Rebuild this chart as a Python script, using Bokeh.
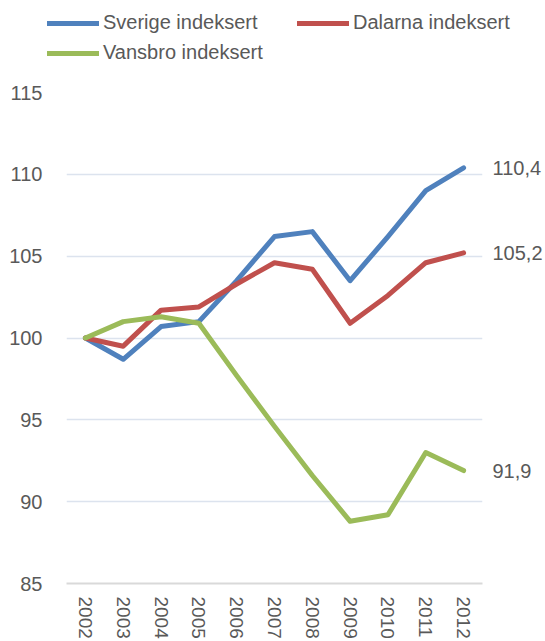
import math
from bokeh.plotting import figure
from bokeh.layouts import column
from bokeh.models import (FactorRange, Range1d, FixedTicker, LinearAxis, Legend,
                          LegendItem, ColumnDataSource)
from bokeh.embed import file_html
from bokeh.resources import INLINE

years = ["2002", "2003", "2004", "2005", "2006", "2007", "2008", "2009", "2010", "2011", "2012"]
sverige = [100.0, 98.7, 100.7, 101.0, 103.5, 106.2, 106.5, 103.5, 106.2, 109.0, 110.4]
dalarna = [100.0, 99.5, 101.7, 101.9, 103.3, 104.6, 104.2, 100.9, 102.6, 104.6, 105.2]
vansbro = [100.0, 101.0, 101.3, 100.9, 97.7, 94.6, 91.6, 88.8, 89.2, 93.0, 91.9]
series_names = ["Sverige indeksert", "Dalarna indeksert", "Vansbro indeksert"]
colors = ["#4F81BD", "#C0504D", "#9BBB59"]
y_ticks = [85, 90, 95, 100, 105, 110, 115]

FONT = "Liberation Sans"
TXT = "#595959"
W = 545
LEG_H = 72
MAIN_H = 641 - LEG_H

src = ColumnDataSource(dict(year=years, sverige=sverige, dalarna=dalarna, vansbro=vansbro))

# ---- main chart ----
p = figure(width=W, height=MAIN_H, x_range=FactorRange(factors=years),
           y_range=Range1d(85, 115), output_backend="svg", toolbar_location=None,
           min_border_left=66, min_border_right=60, min_border_top=20, min_border_bottom=0)
p.outline_line_color = None

for col, c in zip(["sverige", "dalarna", "vansbro"], colors):
    p.line("year", col, source=src, line_color=c, line_width=5,
           line_join="round", line_cap="round")

p.xgrid.grid_line_color = None
p.ygrid.grid_line_color = "#DCE3EE"
p.ygrid.grid_line_width = 1.3

yax = p.yaxis[0]
yax.ticker = FixedTicker(ticks=y_ticks)
yax.axis_line_color = None
yax.major_tick_line_color = None
yax.minor_tick_line_color = None
yax.major_label_standoff = 18
yax.major_label_text_font = FONT
yax.major_label_text_font_size = "20px"
yax.major_label_text_color = TXT

xax = p.xaxis[0]
xax.axis_line_color = "#D9D9D9"
xax.axis_line_width = 2
xax.major_tick_line_color = None
xax.minor_tick_line_color = None
xax.major_label_orientation = -math.pi / 2
xax.major_label_standoff = 7
xax.major_label_text_font = FONT
xax.major_label_text_font_size = "19px"
xax.major_label_text_color = TXT

end_vals = [sverige[-1], dalarna[-1], vansbro[-1]]
overrides = {v: f"{v:.1f}".replace(".", ",") for v in end_vals}
rax = LinearAxis(ticker=FixedTicker(ticks=end_vals), major_label_overrides=overrides)
rax.axis_line_color = None
rax.major_tick_line_color = None
rax.minor_tick_line_color = None
rax.major_label_standoff = 4
rax.major_label_text_font = FONT
rax.major_label_text_font_size = "20px"
rax.major_label_text_color = TXT
p.add_layout(rax, "right")

# ---- legend strip ----
lf = figure(width=W, height=LEG_H, x_range=Range1d(0, 1), y_range=Range1d(0, 1),
            x_axis_location=None, y_axis_location=None, output_backend="svg",
            toolbar_location=None, min_border=0)
lf.outline_line_color = None
lf.grid.visible = False

aligned_off = False
for fig in (lf, p):
    if "frame_align" in fig.properties():
        fig.frame_align = False
        aligned_off = True

dummies = []
for c in colors:
    dummies.append(lf.line(x=[-5, -4], y=[-5, -4], line_color=c, line_width=5, line_cap="round"))

leg_x = 47 if aligned_off else -19
items = [LegendItem(label=n, renderers=[r]) for n, r in zip(series_names, dummies)]
legend = Legend(items=items, location=(leg_x, 8), orientation="horizontal", ncols=2,
                glyph_width=52, glyph_height=20, label_height=20, label_width=187,
                label_standoff=4, spacing=7, padding=0, margin=0,
                border_line_color=None, background_fill_alpha=0,
                label_text_font=FONT, label_text_font_size="20px", label_text_color=TXT)
lf.add_layout(legend)

layout = column(lf, p, spacing=0)
open("out.html", "w").write(file_html(layout, INLINE))
